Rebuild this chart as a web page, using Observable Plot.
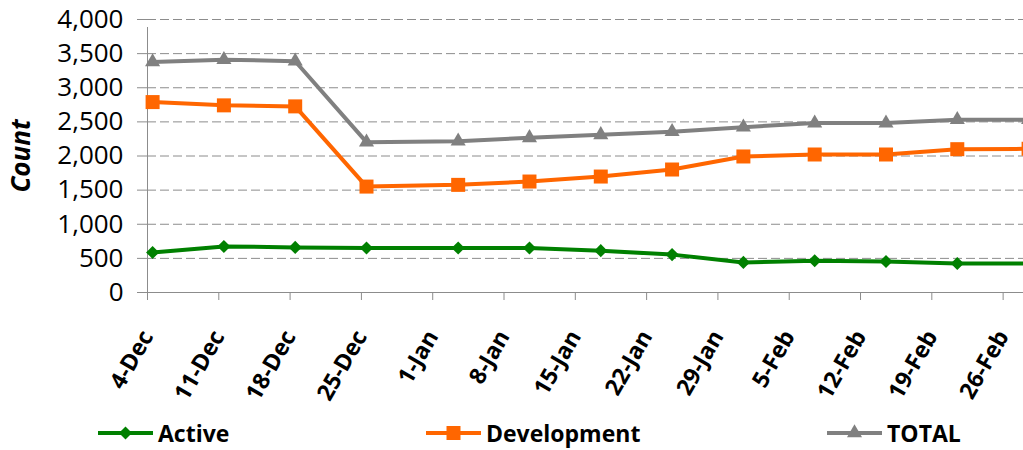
<!DOCTYPE html>
<html><head><meta charset="utf-8">
<script src="https://cdn.jsdelivr.net/npm/d3@7"></script>
<script src="https://cdn.jsdelivr.net/npm/@observablehq/plot@0.6"></script>
<style>
body{margin:0;background:#fff;overflow:hidden;font-family:"Open Sans",sans-serif;}
#chart{position:relative;width:1023px;height:450px;overflow:hidden;}
#chart svg{display:block;}
.legend{position:absolute;top:413px;left:0;width:1023px;height:37px;}
.item{position:absolute;top:0;height:40px;display:flex;align-items:center;font-weight:bold;font-size:23px;color:#000;}
.item svg{margin-right:5px;}
</style></head><body><div id="chart"></div>
<script>
// ---- data ----
const dates = ["2011-12-04","2011-12-11","2011-12-18","2011-12-25","2012-01-03","2012-01-10","2012-01-17","2012-01-24","2012-01-31","2012-02-07","2012-02-14","2012-02-21","2012-02-28"];
const active      = [587, 675, 661, 652, 652, 652, 613, 555, 441, 465, 455, 426, 426];
const development = [2790, 2742, 2727, 1552, 1577, 1626, 1699, 1802, 1993, 2022, 2022, 2100, 2105];
const total       = [3377, 3412, 3388, 2203, 2217, 2267, 2311, 2357, 2423, 2482, 2482, 2531, 2531];
const seriesNames = ["Active", "Development", "TOTAL"];
const seriesColors = ["#008000", "#ff6600", "#808080"];
const seriesSymbols = ["diamond2", "square", "triangle"];
const tickDates = ["2011-12-04","2011-12-11","2011-12-18","2011-12-25","2012-01-01","2012-01-08","2012-01-15","2012-01-22","2012-01-29","2012-02-05","2012-02-12","2012-02-19","2012-02-26"];
const tickLabels = ["4-Dec","11-Dec","18-Dec","25-Dec","1-Jan","8-Jan","15-Jan","22-Jan","29-Jan","5-Feb","12-Feb","19-Feb","26-Feb"];
const yTicks = [0, 500, 1000, 1500, 2000, 2500, 3000, 3500, 4000];

// ---- build ----
const parse = d3.utcParse("%Y-%m-%d");
const seriesValues = [active, development, total];
const rows = seriesNames.flatMap((name, s) => dates.map((d, i) => ({series: name, date: parse(d), value: seriesValues[s][i]})));
const mid = d => d3.utcHour.offset(d.date, 12);
const ticks = tickDates.map(parse);
const labelMap = new Map(ticks.map((t, i) => [+t, tickLabels[i]]));
const x0 = parse("2011-12-04"), x1 = parse("2012-02-28");
const rSize = {diamond2: 5.9, square: 7.9, triangle: 5.6};

const marks = [
  Plot.ruleY(yTicks.filter(v => v > 0), {stroke: "#8c8c8c", strokeWidth: 1, strokeDasharray: "9,4", strokeOpacity: 1}),
  Plot.ruleY([0], {stroke: "#8c8c8c", strokeWidth: 1}),
  Plot.ruleX([x0], {y1: 0, y2: 4000, stroke: "#8c8c8c", strokeWidth: 1, insetBottom: -8}),
  Plot.axisY({ticks: yTicks, tickSize: 10, tickPadding: 14, tickFormat: d3.format(","), fontSize: 26, label: null, stroke: "#8c8c8c", fill: "#000"}),
  Plot.axisX({ticks: ticks, tickSize: 8, tickPadding: 32, tickRotate: -60, tickFormat: d => labelMap.get(+d), fontSize: 23, fontWeight: "bold", label: null, stroke: "#8c8c8c", fill: "#000"}),
  Plot.text(["Count"], {frameAnchor: "left", textAnchor: "middle", dx: -126, rotate: -90, fontSize: 26, fontWeight: "bold", fontStyle: "italic", fill: "#000"})
];
seriesNames.forEach((name, s) => {
  const data = rows.filter(r => r.series === name);
  marks.push(Plot.line(data, {x: mid, y: "value", stroke: seriesColors[s], strokeWidth: 4}));
  marks.push(Plot.dot(data, {x: mid, y: "value", fill: seriesColors[s], stroke: "none", symbol: seriesSymbols[s], r: rSize[seriesSymbols[s]]}));
});

const chart = Plot.plot({
  width: 1023, height: 412,
  marginLeft: 147, marginRight: 0, marginTop: 19, marginBottom: 120,
  style: {fontFamily: "'Open Sans', sans-serif", background: "#fff"},
  x: {type: "utc", domain: [x0, x1]},
  y: {domain: [0, 4000]},
  marks
});
const root = document.getElementById("chart");
root.appendChild(chart);

// ---- legend ----
const legend = d3.select(root).append("div").attr("class", "legend");
const legendLeft = [98, 426, 827];
const symbolPath = {
  diamond2: d3.symbol(d3.symbolDiamond2, Math.PI * 5.9 * 5.9)(),
  square: d3.symbol(d3.symbolSquare, Math.PI * 7.9 * 7.9)(),
  triangle: d3.symbol(d3.symbolTriangle, Math.PI * 5.6 * 5.6)()
};
seriesNames.forEach((name, s) => {
  const item = legend.append("div").attr("class", "item").style("left", legendLeft[s] + "px");
  const sv = item.append("svg").attr("width", 55).attr("height", 20);
  sv.append("line").attr("x1", 0).attr("x2", 55).attr("y1", 10).attr("y2", 10).attr("stroke", seriesColors[s]).attr("stroke-width", 4);
  sv.append("path").attr("d", symbolPath[seriesSymbols[s]]).attr("transform", "translate(27.5,10)").attr("fill", seriesColors[s]);
  item.append("span").text(name);
});
</script></body></html>
